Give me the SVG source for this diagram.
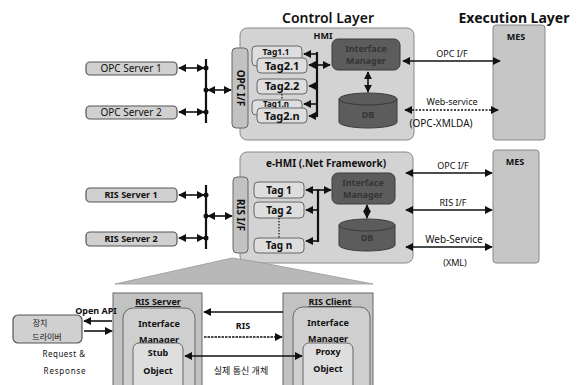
<svg xmlns="http://www.w3.org/2000/svg" width="582" height="385" viewBox="0 0 582 385">
<defs>
<style>
text{font-family:"Noto Sans","Open Sans","Noto Sans CJK KR",sans-serif;fill:#111}
.t{font-size:9px;font-weight:bold}
.lbl{font-size:9px}
.srv{fill:#d0d0d0;stroke:#555;stroke-width:1.2}
.big{fill:#d3d3d3;stroke:#888;stroke-width:1}
.ifc{fill:#c2c2c2;stroke:#666;stroke-width:1}
.tag{fill:#dedede;stroke:#666;stroke-width:1}
.dark{fill:#5c5c5c;stroke:#3a3a3a;stroke-width:1}
.mes{fill:#c6c6c6;stroke:#888;stroke-width:1}
.ln{stroke:#111;stroke-width:1.6;fill:none}
.bus{stroke:#111;stroke-width:2.2;fill:none}
.dot{fill:#111}
.dk{fill:#353535;font-size:9px;font-weight:bold}
</style>
<marker id="ah" viewBox="0 0 10 10" refX="9" refY="5" markerWidth="5" markerHeight="5" orient="auto-start-reverse" markerUnits="strokeWidth">
<path d="M0,0 L10,5 L0,10 z" fill="#111"/>
</marker>
</defs>

<!-- titles -->
<text x="328" y="23" text-anchor="middle" style="font-size:14px;font-weight:600">Control Layer</text>
<text x="514" y="23" text-anchor="middle" style="font-size:14px;font-weight:bold">Execution Layer</text>

<!-- ============ TOP: HMI ============ -->
<g id="hmi">
<rect class="big" x="240" y="28" width="174" height="112" rx="7"/>
<text class="t" x="323" y="39" text-anchor="middle">HMI</text>
</g>
<g id="opc-if">
<rect class="ifc" x="232" y="48" width="16" height="80" rx="4"/>
<text class="t" transform="translate(237,88) rotate(90)" text-anchor="middle" style="font-size:10px">OPC I/F</text>
</g>
<g id="opc-server-1">
<rect class="srv" x="86" y="62" width="91" height="13" rx="4"/>
<text class="lbl" x="131" y="72" text-anchor="middle" style="font-size:10px">OPC Server 1</text>
</g>
<g id="opc-server-2">
<rect class="srv" x="86" y="106" width="91" height="13" rx="4"/>
<text class="lbl" x="131" y="116" text-anchor="middle" style="font-size:10px">OPC Server 2</text>
</g>
<g id="tags-hmi">
<rect class="tag" x="252" y="46" width="50" height="20" rx="4"/>
<text class="t" x="276" y="55" text-anchor="middle" style="font-size:8.5px">Tag1.1</text>
<rect class="tag" x="257" y="58" width="50" height="15" rx="4"/>
<text class="t" x="282" y="70" text-anchor="middle" style="font-size:11px">Tag2.1</text>
<rect class="tag" x="257" y="79" width="50" height="15" rx="4"/>
<text class="t" x="282" y="90" text-anchor="middle" style="font-size:11px">Tag2.2</text>
<rect class="tag" x="252" y="100" width="50" height="15" rx="4"/>
<text class="t" x="276" y="107" text-anchor="middle" style="font-size:8px">Tag1.n</text>
<rect class="tag" x="257" y="108" width="50" height="15" rx="4"/>
<text class="t" x="282" y="120" text-anchor="middle" style="font-size:11px">Tag2.n</text>
</g>
<g id="middleware-hmi">
<rect class="dark" x="332" y="39" width="68" height="31" rx="6"/>
<text class="dk" x="366" y="52" text-anchor="middle">Interface</text>
<text class="dk" x="366" y="64" text-anchor="middle">Manager</text>
</g>
<g id="db-hmi">
<path class="dark" d="M339,99 A29,6 0 0 1 397,99 L397,122 A29,6 0 0 1 339,122 Z"/>
<path d="M339,99 A29,6 0 0 0 397,99" fill="none" stroke="#3a3a3a"/>
<text class="dk" x="368" y="118" text-anchor="middle">DB</text>
</g>
<g id="mes-1">
<rect class="mes" x="493" y="25" width="52" height="115" rx="3"/>
<text class="t" x="516" y="40" text-anchor="middle">MES</text>
</g>

<!-- ============ MIDDLE: e-HMI ============ -->
<g id="ehmi">
<rect class="big" x="240" y="152" width="173" height="111" rx="7"/>
<text class="t" x="326" y="167" text-anchor="middle" style="font-size:10px">e-HMI (.Net Framework)</text>
</g>
<g id="ris-if">
<rect class="ifc" x="233" y="177" width="15" height="76" rx="4"/>
<text class="t" transform="translate(237,215) rotate(90)" text-anchor="middle" style="font-size:10px">RIS I/F</text>
</g>
<g id="ris-server-1">
<rect class="srv" x="86" y="188" width="91" height="14" rx="4"/>
<text class="t" x="131" y="198" text-anchor="middle">RIS Server 1</text>
</g>
<g id="ris-server-2">
<rect class="srv" x="86" y="232" width="91" height="14" rx="4"/>
<text class="t" x="131" y="242" text-anchor="middle">RIS Server 2</text>
</g>
<g id="tags-ehmi">
<rect class="tag" x="254" y="182" width="50" height="16" rx="4"/>
<text class="t" x="279" y="194" text-anchor="middle" style="font-size:10px">Tag 1</text>
<rect class="tag" x="254" y="202" width="50" height="16" rx="4"/>
<text class="t" x="279" y="214" text-anchor="middle" style="font-size:10px">Tag 2</text>
<rect class="tag" x="254" y="238" width="50" height="15" rx="4"/>
<text class="t" x="279" y="249" text-anchor="middle" style="font-size:10px">Tag n</text>
</g>
<g id="middleware-ehmi">
<rect class="dark" x="332" y="173" width="63" height="31" rx="6"/>
<text class="dk" x="363" y="186" text-anchor="middle">Interface</text>
<text class="dk" x="363" y="198" text-anchor="middle">Manager</text>
</g>
<g id="db-ehmi">
<path class="dark" d="M339,225 A28,6 0 0 1 395,225 L395,245 A28,6 0 0 1 339,245 Z"/>
<path d="M339,225 A28,6 0 0 0 395,225" fill="none" stroke="#3a3a3a"/>
<text class="dk" x="367" y="241" text-anchor="middle">DB</text>
</g>
<g id="mes-2">
<rect class="mes" x="493" y="150" width="46" height="113" rx="3"/>
<text class="t" x="515" y="165" text-anchor="middle">MES</text>
</g>

<!-- ============ BOTTOM ============ -->
<g id="zoom-wedge">
<polygon points="115,284 232,258 258,262 373,284" fill="#b8b8b8" stroke="#999" stroke-width="0.8"/>
</g>
<g id="device-driver">
<rect class="srv" x="13" y="315" width="69" height="28" rx="5"/>
<text class="lbl" x="40" y="326" text-anchor="middle" style="font-size:8px">장치</text>
<text class="lbl" x="47" y="340" text-anchor="middle" style="font-size:8px">드라이버</text>
</g>
<g id="ris-server">
<rect class="ifc" x="113" y="293" width="89" height="100"/>
<text class="t" x="158" y="305" text-anchor="middle" text-decoration="underline">RIS Server</text>
<rect class="tag" x="123" y="308" width="72" height="90" rx="10" style="fill:#cfcfcf"/>
<text class="t" x="159" y="327" text-anchor="middle">Interface</text>
<text class="t" x="159" y="343" text-anchor="middle">Manager</text>
<rect class="tag" x="133" y="343" width="50" height="50" rx="6"/>
<text class="t" x="158" y="356" text-anchor="middle">Stub</text>
<text class="t" x="158" y="374" text-anchor="middle">Object</text>
</g>
<g id="ris-client">
<rect class="ifc" x="283" y="293" width="90" height="100"/>
<text class="t" x="330" y="305" text-anchor="middle" text-decoration="underline">RIS Client</text>
<rect class="tag" x="293" y="307" width="77" height="90" rx="10" style="fill:#cfcfcf"/>
<text class="t" x="328" y="326" text-anchor="middle">Interface</text>
<text class="t" x="328" y="342" text-anchor="middle">Manager</text>
<rect class="tag" x="303" y="343" width="50" height="50" rx="6"/>
<text class="t" x="328" y="355" text-anchor="middle">Proxy</text>
<text class="t" x="328" y="372" text-anchor="middle">Object</text>
</g>

<!-- ============ CONNECTORS ============ -->
<g id="connectors">
<!-- top left bus -->
<line class="bus" x1="206" y1="59" x2="206" y2="123"/>
<line class="ln" x1="179" y1="68" x2="204" y2="68" marker-start="url(#ah)" marker-end="url(#ah)"/>
<circle class="dot" cx="206" cy="68" r="2.5"/>
<line class="ln" x1="179" y1="112" x2="204" y2="112" marker-start="url(#ah)" marker-end="url(#ah)"/>
<circle class="dot" cx="206" cy="112" r="2.5"/>
<circle class="dot" cx="206" cy="90" r="2.5"/>
<line class="ln" x1="208" y1="90" x2="231" y2="90" marker-start="url(#ah)" marker-end="url(#ah)"/>
<!-- HMI inner bus -->
<line class="bus" x1="317" y1="52" x2="317" y2="117"/>
<line class="ln" x1="317" y1="54" x2="304" y2="54" marker-end="url(#ah)"/>
<line class="ln" x1="309" y1="65" x2="330" y2="65" marker-start="url(#ah)" marker-end="url(#ah)"/>
<line class="ln" x1="317" y1="86" x2="309" y2="86" marker-end="url(#ah)"/>
<line class="ln" x1="317" y1="104" x2="304" y2="104" marker-end="url(#ah)"/>
<line class="ln" x1="317" y1="116" x2="309" y2="116" marker-end="url(#ah)"/>
<line x1="282" y1="94" x2="282" y2="100" stroke="#111" stroke-width="1.2" stroke-dasharray="1.5 1.5"/>
<line class="ln" x1="368" y1="72" x2="368" y2="92" marker-start="url(#ah)" marker-end="url(#ah)"/>
<!-- HMI to MES -->
<line class="ln" x1="403" y1="61" x2="500" y2="61" marker-start="url(#ah)" marker-end="url(#ah)"/>
<text class="lbl" x="452" y="57" text-anchor="middle">OPC I/F</text>
<line x1="405" y1="110" x2="498" y2="110" stroke="#111" stroke-width="1.6" stroke-dasharray="2 1.5" marker-start="url(#ah)" marker-end="url(#ah)"/>
<text class="lbl" x="452" y="105" text-anchor="middle">Web-service</text>
<text class="lbl" x="441" y="127" text-anchor="middle" style="font-size:10px">(OPC-XMLDA)</text>

<!-- middle left bus -->
<line class="bus" x1="206" y1="185" x2="206" y2="249"/>
<line class="ln" x1="179" y1="195" x2="204" y2="195" marker-start="url(#ah)" marker-end="url(#ah)"/>
<circle class="dot" cx="206" cy="195" r="2.5"/>
<line class="ln" x1="179" y1="238" x2="204" y2="238" marker-start="url(#ah)" marker-end="url(#ah)"/>
<circle class="dot" cx="206" cy="238" r="2.5"/>
<circle class="dot" cx="206" cy="216" r="2.5"/>
<line class="ln" x1="208" y1="216" x2="232" y2="216" marker-start="url(#ah)" marker-end="url(#ah)"/>
<!-- e-HMI inner bus -->
<line class="bus" x1="318" y1="189" x2="318" y2="242"/>
<line class="ln" x1="306" y1="190" x2="331" y2="190" marker-start="url(#ah)" marker-end="url(#ah)"/>
<line class="ln" x1="318" y1="210" x2="306" y2="210" marker-end="url(#ah)"/>
<line class="ln" x1="318" y1="241" x2="306" y2="241" marker-end="url(#ah)"/>
<line x1="279" y1="218" x2="279" y2="238" stroke="#111" stroke-width="1.2" stroke-dasharray="1.5 1.5"/>
<line class="ln" x1="367" y1="205" x2="367" y2="218" marker-start="url(#ah)" marker-end="url(#ah)"/>
<!-- e-HMI to MES -->
<line class="ln" x1="406" y1="173" x2="492" y2="173" marker-start="url(#ah)" marker-end="url(#ah)"/>
<text class="lbl" x="453" y="169" text-anchor="middle">OPC I/F</text>
<line class="ln" x1="406" y1="210" x2="492" y2="210" marker-start="url(#ah)" marker-end="url(#ah)"/>
<text class="lbl" x="453" y="206" text-anchor="middle">RIS I/F</text>
<line class="ln" x1="406" y1="247" x2="492" y2="247" marker-start="url(#ah)" marker-end="url(#ah)"/>
<text class="lbl" x="454" y="243" text-anchor="middle" style="font-size:10px">Web-Service</text>
<text class="lbl" x="455" y="266" text-anchor="middle">(XML)</text>

<!-- bottom -->
<line class="ln" x1="112" y1="321" x2="84" y2="321" marker-end="url(#ah)"/>
<line class="ln" x1="84" y1="331" x2="112" y2="331" marker-end="url(#ah)"/>
<text class="t" x="96" y="314" text-anchor="middle">Open API</text>
<text class="lbl" x="64" y="357" text-anchor="middle" style="font-size:8px;letter-spacing:0.5px">Request &amp;</text>
<text class="lbl" x="65" y="374" text-anchor="middle" style="font-size:8px;letter-spacing:0.8px">Response</text>
<line class="ln" x1="283" y1="312" x2="204" y2="312" marker-end="url(#ah)"/>
<text class="t" x="243" y="329" text-anchor="middle">RIS</text>
<line x1="204" y1="337" x2="282" y2="337" stroke="#111" stroke-width="1.6" stroke-dasharray="2.5 1" marker-end="url(#ah)"/>
<line class="ln" x1="185" y1="356" x2="302" y2="356" marker-start="url(#ah)" marker-end="url(#ah)"/>
<text class="lbl" x="241" y="374" text-anchor="middle" style="font-size:9px">실제 통신 개체</text>
</g>
</svg>
